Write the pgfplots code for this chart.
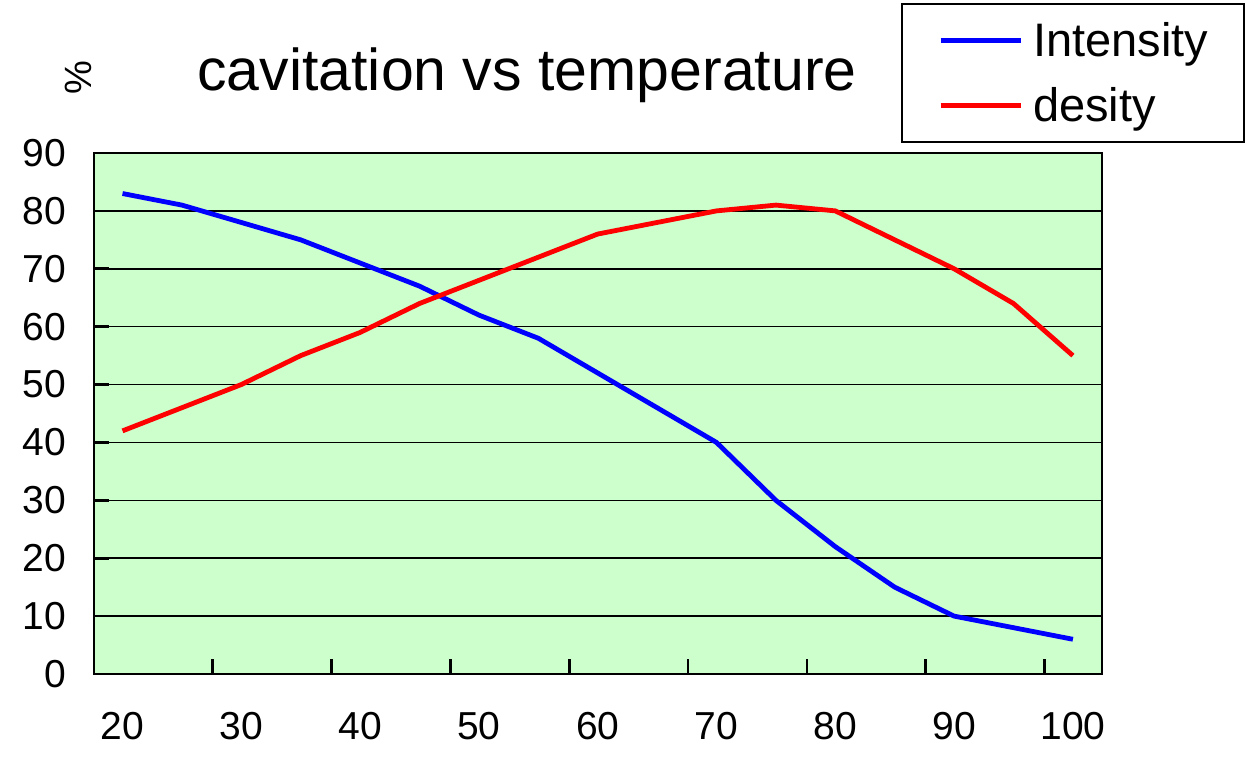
\documentclass[border=0pt]{standalone}
\usepackage{pgfplots}
\pgfplotsset{compat=1.18}
\usepackage{fontspec}
\setmainfont{Liberation Sans}
\definecolor{bggreen}{RGB}{204,255,204}
\begin{document}
\begin{tikzpicture}
\path[use as bounding box] (-47pt,-41.5pt) rectangle (579pt,337pt);
\begin{axis}[
  at={(0,0)}, anchor=south west,
  scale only axis, width=504pt, height=260.5pt,
  xmin=17.6, xmax=102.45, ymin=0, ymax=90,
  axis background/.style={fill=bggreen},
  axis line style={line width=1.4pt},
  xtick={27.6,37.6,47.6,57.6,67.6,77.6,87.6,97.6}, xticklabels={},
  extra x ticks={20,30,40,50,60,70,80,90,100},
  extra x tick labels={20,30,40,50,60,70,80,90,100},
  extra x tick style={major tick length=0pt, grid=none},
  ytick={0,10,...,90},
  yticklabels={0,10,20,30,40,50,60,70,80,90},
  ymajorgrids, grid style={black, line width=0.8pt},
  tick align=inside, major tick length=7.5pt,
  tick style={black, line width=1.3pt},
  xtick pos=lower, ytick pos=left,
  /pgf/number format/assume math mode=true,
  ticklabel style={font=\fontsize{19.5}{20}\selectfont},
  yticklabel style={xshift=-10.5pt},
  xticklabel style={yshift=-15.5pt},
  legend style={at={(1.1419,1.2879)}, anchor=north east, draw=black, line width=1pt,
    fill=white, font=\fontsize{23.5}{28}\selectfont, inner xsep=18pt, inner ysep=9pt,
    nodes={inner sep=0pt}, row sep=14pt, column sep=5pt},
  legend cell align=left,
  legend image code/.code={\draw[#1] (0pt,0pt) -- (40pt,0pt);},
]
\addplot[blue, line width=2.4pt, line join=round] coordinates {
(20,83) (25,81) (30,78) (35,75) (40,71) (45,67) (50,62) (55,58) (60,52)
(65,46) (70,40) (75,30) (80,22) (85,15) (90,10) (95,8) (100,6)};
\addlegendentry{Intensity}
\addplot[red, line width=2.4pt, line join=round] coordinates {
(20,42) (25,46) (30,50) (35,55) (40,59) (45,64) (50,68) (55,72) (60,76)
(65,78) (70,80) (75,81) (80,80) (85,75) (90,70) (95,64) (100,55)};
\addlegendentry{desity}
\end{axis}
\node[font=\fontsize{29.5}{34}\selectfont] at (216.5pt,299.5pt) {cavitation vs temperature};
\node[rotate=90, font=\fontsize{19}{24}\selectfont] at (-8pt,298pt) {\%};
\end{tikzpicture}
\end{document}
